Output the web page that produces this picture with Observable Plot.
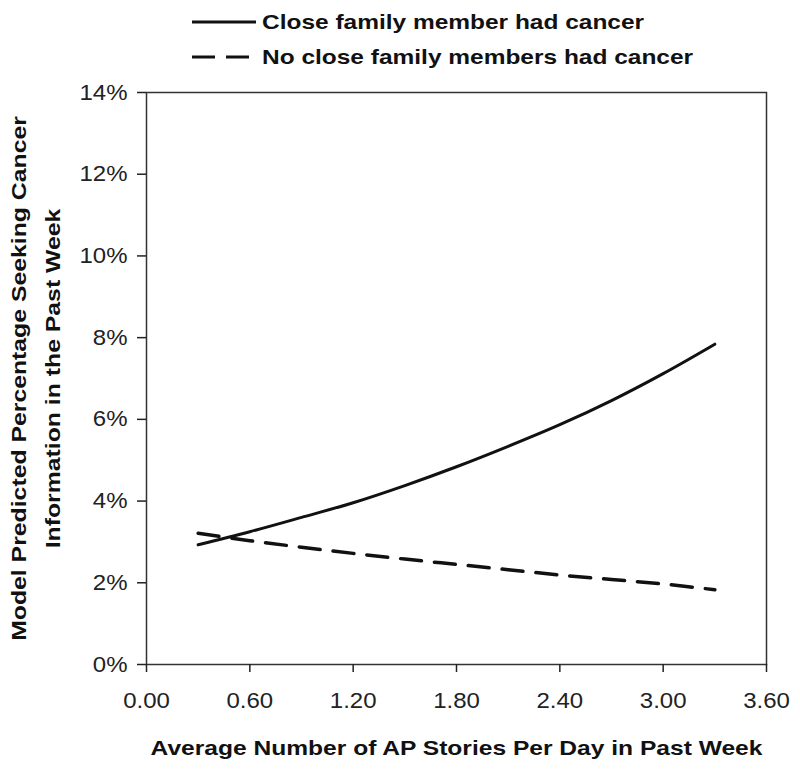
<!DOCTYPE html>
<html>
<head>
<meta charset="utf-8">
<script src="https://cdn.jsdelivr.net/npm/d3@7"></script>
<script src="https://cdn.jsdelivr.net/npm/@observablehq/plot@0.6"></script>
<style>
  body { margin: 0; background: #fff; font-family: "Liberation Sans", Arial, sans-serif; }
  #legend { width: 800px; height: 80px; }
  #legend svg, #chart svg { display: block; }
</style>
</head>
<body>
<div id="legend"></div>
<div id="chart"></div>
<script>
// Data
const stories = [0.3, 0.6, 0.9, 1.2, 1.5, 1.8, 2.1, 2.4, 2.7, 3.0, 3.3];
const familyCancer = [2.93, 3.25, 3.60, 3.96, 4.38, 4.84, 5.34, 5.87, 6.46, 7.12, 7.84];
const noFamilyCancer = [3.21, 3.03, 2.87, 2.72, 2.58, 2.45, 2.32, 2.19, 2.08, 1.97, 1.83];
const seriesNames = ["Close family member had cancer", "No close family members had cancer"];
const xTicks = [0, 0.6, 1.2, 1.8, 2.4, 3.0, 3.6];
const yTicks = [0, 2, 4, 6, 8, 10, 12, 14];

const rows = [];
stories.forEach((x, i) => {
  rows.push({x, y: familyCancer[i], series: seriesNames[0]});
  rows.push({x, y: noFamilyCancer[i], series: seriesNames[1]});
});

function stretch(nodes, f) {
  nodes.each(function() {
    const L = this.getComputedTextLength();
    if (L > 0) {
      this.setAttribute("textLength", (L * f).toFixed(1));
      this.setAttribute("lengthAdjust", "spacingAndGlyphs");
    }
  });
}

// Legend
const leg = d3.select("#legend").append("svg").attr("width", 800).attr("height", 80);
const legItems = [
  {name: seriesNames[0], dash: null, y: 22},
  {name: seriesNames[1], dash: "23,11", y: 57}
];
legItems.forEach(it => {
  leg.append("line").attr("x1", 192).attr("x2", it.dash ? 249 : 256).attr("y1", it.y).attr("y2", it.y)
    .attr("stroke", "#111").attr("stroke-width", 3).attr("stroke-dasharray", it.dash);
  leg.append("text").attr("class", "legtext").attr("x", 262).attr("y", it.y + 7)
    .attr("font-family", "'Liberation Sans', Arial, sans-serif").attr("font-weight", "bold")
    .attr("font-size", 21).attr("fill", "#111").text(it.name);
});
stretch(leg.selectAll("text.legtext"), 1.165);

const chart = Plot.plot({
  width: 800,
  height: 692,
  marginTop: 12,
  marginLeft: 146,
  marginRight: 34,
  marginBottom: 108,
  style: {fontFamily: "'Liberation Sans', Arial, sans-serif", fontSize: "22px", color: "#222", background: "#fff"},
  x: {domain: [0, 3.6]},
  y: {domain: [0, 14]},
  marks: [
    Plot.frame({stroke: "#333", strokeWidth: 1.5}),
    Plot.axisX({ticks: xTicks, tickFormat: d3.format(".2f"), tickSize: 8, tickPadding: 20, fontSize: 22,
      label: "Average Number of AP Stories Per Day in Past Week", labelArrow: "none", labelAnchor: "center", labelOffset: 90, strokeWidth: 1.5}),
    Plot.axisY({ticks: yTicks, tickFormat: d => d + "%", tickSize: 9, tickPadding: 10, fontSize: 22,
      label: "Model Predicted Percentage Seeking Cancer\nInformation in the Past Week", labelArrow: "none", labelAnchor: "center", labelOffset: 135, strokeWidth: 1.5}),
    Plot.line(rows.filter(d => d.series === seriesNames[0]), {x: "x", y: "y", stroke: "#111", strokeWidth: 3, curve: "catmull-rom"}),
    Plot.line(rows.filter(d => d.series === seriesNames[1]), {x: "x", y: "y", stroke: "#111", strokeWidth: 3.5, strokeDasharray: "21,13", curve: "catmull-rom"})
  ]
});
document.getElementById("chart").appendChild(chart);

const svg = d3.select(chart);
// strip any arrows from axis labels
svg.selectAll('[aria-label="x-axis label"] text, [aria-label="y-axis label"] text, [aria-label="x-axis label"] tspan, [aria-label="y-axis label"] tspan')
  .each(function() {
    if (this.childElementCount === 0) this.textContent = this.textContent.replace(/\s*[\u2190-\u2193]\s*/g, "");
  });
svg.selectAll('[aria-label="x-axis label"] text, [aria-label="y-axis label"] text')
  .attr("font-weight", "bold").attr("font-size", 21).attr("fill", "#111");
svg.selectAll('[aria-label="y-axis label"] tspan').each(function(d, i) {
  if (i > 0) d3.select(this).attr("dy", "1.6em");
});
// stretch texts to match the reference's wider letterforms
svg.selectAll('[aria-label="x-axis tick label"] text, [aria-label="y-axis tick label"] text').call(stretch, 1.09);
svg.selectAll('[aria-label="x-axis label"] text').call(stretch, 1.17);
const ytsp = svg.selectAll('[aria-label="y-axis label"] tspan');
if (ytsp.size() > 0) stretch(ytsp, 1.18); else stretch(svg.selectAll('[aria-label="y-axis label"] text'), 1.18);
</script>
</body>
</html>
